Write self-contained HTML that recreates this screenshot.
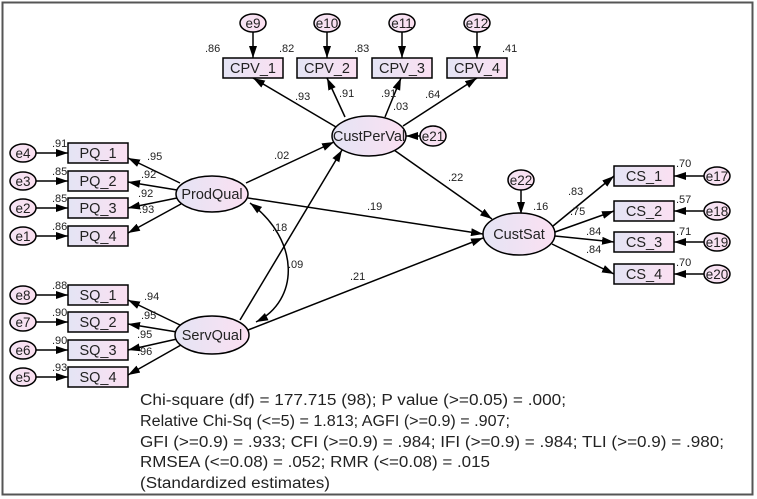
<!DOCTYPE html>
<html><head><meta charset="utf-8"><style>
html,body{margin:0;padding:0;background:#fff}
svg{display:block}
text{font-family:"Liberation Sans",Arial,sans-serif;fill:#222}
</style></head><body>
<svg width="757" height="499" viewBox="0 0 757 499" xmlns="http://www.w3.org/2000/svg">
<defs>
<linearGradient id="g" x1="0" y1="0" x2="1" y2="0"><stop offset="0" stop-color="#e4e4f4"/><stop offset="1" stop-color="#fbe0f2"/></linearGradient>
<linearGradient id="ge" x1="0" y1="0" x2="1" y2="0"><stop offset="0" stop-color="#f4e4f4"/><stop offset="1" stop-color="#fbdff0"/></linearGradient>
<marker id="a" viewBox="0 0 12 8" refX="12" refY="4" markerWidth="12" markerHeight="8" markerUnits="userSpaceOnUse" orient="auto"><path d="M0,0L12,4L0,8z" fill="#000"/></marker>
<marker id="s" viewBox="0 0 12 8" refX="0" refY="4" markerWidth="12" markerHeight="8" markerUnits="userSpaceOnUse" orient="auto"><path d="M12,0L0,4L12,8z" fill="#000"/></marker>
</defs>
<rect x="2.5" y="2.5" width="750" height="492" fill="#fff" stroke="#555" stroke-width="2"/>
<g stroke="#000" stroke-width="1.5" fill="none" marker-end="url(#a)">
<line x1="36" y1="153" x2="68" y2="153"/><line x1="36" y1="181" x2="68" y2="181"/><line x1="36" y1="208" x2="68" y2="208"/><line x1="36" y1="236" x2="68" y2="236"/>
<line x1="36" y1="295" x2="68" y2="295"/><line x1="36" y1="322" x2="68" y2="322"/><line x1="36" y1="350" x2="68" y2="350"/><line x1="36" y1="377" x2="68" y2="377"/>
<line x1="180" y1="183" x2="128" y2="158"/><line x1="177" y1="190" x2="128" y2="182"/><line x1="177" y1="198" x2="128" y2="208"/><line x1="181" y1="204" x2="128" y2="233"/>
<line x1="180" y1="325" x2="128" y2="300"/><line x1="177" y1="332" x2="128" y2="324"/><line x1="177" y1="339" x2="128" y2="350"/><line x1="181" y1="345" x2="128" y2="375"/>
<line x1="253" y1="32" x2="253" y2="58"/><line x1="327" y1="32" x2="327" y2="58"/><line x1="402" y1="32" x2="402" y2="58"/><line x1="477" y1="32" x2="477" y2="58"/>
<line x1="336" y1="127" x2="253" y2="78"/><line x1="345" y1="117" x2="327" y2="78"/><line x1="385" y1="117" x2="401" y2="78"/><line x1="403" y1="126" x2="477" y2="78"/>
<line x1="420" y1="136" x2="406" y2="136"/>
<line x1="246" y1="183" x2="334" y2="142"/>
<line x1="240" y1="320" x2="342" y2="150"/>
<line x1="248" y1="198" x2="483" y2="234"/>
<line x1="248" y1="330" x2="483" y2="238"/>
<line x1="394" y1="150" x2="492" y2="219"/>
<line x1="521" y1="190" x2="521" y2="214"/>
<line x1="553" y1="226" x2="614" y2="176"/><line x1="555" y1="232" x2="614" y2="211"/><line x1="555" y1="236" x2="614" y2="242"/><line x1="552" y1="244" x2="614" y2="274"/>
<line x1="704" y1="176" x2="674" y2="176"/><line x1="704" y1="211" x2="674" y2="211"/><line x1="704" y1="242" x2="674" y2="242"/><line x1="704" y1="274" x2="674" y2="274"/>
<path d="M250,203 C300,240 300,300 256,322" marker-start="url(#s)"/>
</g>
<g stroke="#000" stroke-width="1.5" fill="url(#g)">
<rect x="68" y="143" width="60" height="20"/><rect x="68" y="171" width="60" height="20"/><rect x="68" y="198" width="60" height="20"/><rect x="68" y="226" width="60" height="20"/>
<rect x="68" y="285" width="60" height="20"/><rect x="68" y="312" width="60" height="20"/><rect x="68" y="340" width="60" height="20"/><rect x="68" y="367" width="60" height="20"/>
<rect x="223" y="58" width="60" height="20"/><rect x="297" y="58" width="60" height="20"/><rect x="372" y="58" width="60" height="20"/><rect x="447" y="58" width="60" height="20"/>
<rect x="614" y="166" width="60" height="20"/><rect x="614" y="201" width="60" height="20"/><rect x="614" y="232" width="60" height="20"/><rect x="614" y="264" width="60" height="20"/>
<ellipse cx="212" cy="194" rx="36" ry="18"/><ellipse cx="212" cy="335" rx="37" ry="19"/>
<ellipse cx="369" cy="136" rx="37" ry="20"/><ellipse cx="519" cy="234" rx="36" ry="21"/>
</g>
<g stroke="#000" stroke-width="1.5" fill="url(#ge)">
<ellipse cx="23" cy="153" rx="13" ry="9"/><ellipse cx="23" cy="181" rx="13" ry="9"/><ellipse cx="23" cy="208" rx="13" ry="9"/><ellipse cx="23" cy="236" rx="13" ry="9"/>
<ellipse cx="23" cy="295" rx="13" ry="9"/><ellipse cx="23" cy="322" rx="13" ry="9"/><ellipse cx="23" cy="350" rx="13" ry="9"/><ellipse cx="23" cy="377" rx="13" ry="9"/>
<ellipse cx="253" cy="23" rx="13" ry="9"/><ellipse cx="327" cy="23" rx="13" ry="9"/><ellipse cx="402" cy="23" rx="13" ry="9"/><ellipse cx="477" cy="23" rx="13" ry="9"/>
<ellipse cx="433" cy="136" rx="13" ry="10"/><ellipse cx="521" cy="180" rx="13" ry="10"/>
<ellipse cx="717" cy="176" rx="13" ry="9"/><ellipse cx="717" cy="211" rx="13" ry="9"/><ellipse cx="717" cy="242" rx="13" ry="9"/><ellipse cx="717" cy="274" rx="13" ry="9"/>
</g>
<g font-size="13.5" text-anchor="middle">
<text x="23" y="158">e4</text><text x="23" y="186">e3</text><text x="23" y="213">e2</text><text x="23" y="241">e1</text>
<text x="23" y="300">e8</text><text x="23" y="327">e7</text><text x="23" y="355">e6</text><text x="23" y="382">e5</text>
<text x="253" y="28">e9</text><text x="327" y="28">e10</text><text x="402" y="28">e11</text><text x="477" y="28">e12</text>
<text x="433" y="141">e21</text><text x="521" y="185">e22</text>
<text x="717" y="181">e17</text><text x="717" y="216">e18</text><text x="717" y="247">e19</text><text x="717" y="279">e20</text>
</g>
<g font-size="14.5" text-anchor="middle">
<text x="98" y="158">PQ_1</text><text x="98" y="186">PQ_2</text><text x="98" y="213">PQ_3</text><text x="98" y="241">PQ_4</text>
<text x="98" y="300">SQ_1</text><text x="98" y="327">SQ_2</text><text x="98" y="355">SQ_3</text><text x="98" y="382">SQ_4</text>
<text x="253" y="73">CPV_1</text><text x="327" y="73">CPV_2</text><text x="402" y="73">CPV_3</text><text x="477" y="73">CPV_4</text>
<text x="644" y="181">CS_1</text><text x="644" y="216">CS_2</text><text x="644" y="247">CS_3</text><text x="644" y="279">CS_4</text>
<text x="212" y="199">ProdQual</text><text x="212" y="340">ServQual</text><text x="369" y="141">CustPerVal</text><text x="519" y="239">CustSat</text>
</g>
<g font-size="11">
<text x="52" y="147">.91</text><text x="52" y="175">.85</text><text x="52" y="202">.85</text><text x="52" y="230">.86</text>
<text x="52" y="289">.88</text><text x="52" y="316">.90</text><text x="52" y="344">.90</text><text x="52" y="371">.93</text>
<text x="147" y="160">.95</text><text x="141" y="178">.92</text><text x="138" y="197">.92</text><text x="139" y="213">.93</text>
<text x="144" y="300">.94</text><text x="141" y="319">.95</text><text x="137" y="338">.95</text><text x="137" y="355">.96</text>
<text x="205" y="52">.86</text><text x="279" y="52">.82</text><text x="354" y="52">.83</text><text x="502" y="52">.41</text>
<text x="295" y="100">.93</text><text x="339" y="97">.91</text><text x="381" y="97">.91</text><text x="393" y="110">.03</text><text x="425" y="98">.64</text>
<text x="274" y="159">.02</text><text x="367" y="210">.19</text><text x="350" y="280">.21</text><text x="272" y="231">.18</text><text x="288" y="268">.09</text>
<text x="448" y="181">.22</text><text x="533" y="210">.16</text>
<text x="568" y="195">.83</text><text x="570" y="215">.75</text><text x="586" y="235">.84</text><text x="586" y="253">.84</text>
<text x="676" y="167">.70</text><text x="676" y="203">.57</text><text x="676" y="235">.71</text><text x="676" y="266">.70</text>
</g>
<g font-size="15.5">
<text x="140" y="405" textLength="426" lengthAdjust="spacingAndGlyphs">Chi-square (df) = 177.715 (98);  P value (&gt;=0.05) = .000;</text>
<text x="140" y="426" textLength="370" lengthAdjust="spacingAndGlyphs">Relative Chi-Sq (&lt;=5) = 1.813; AGFI (&gt;=0.9) = .907;</text>
<text x="140" y="447" textLength="584" lengthAdjust="spacingAndGlyphs">GFI (&gt;=0.9) = .933; CFI (&gt;=0.9) = .984; IFI (&gt;=0.9) = .984; TLI (&gt;=0.9) = .980;</text>
<text x="140" y="467" textLength="350" lengthAdjust="spacingAndGlyphs">RMSEA (&lt;=0.08) = .052; RMR (&lt;=0.08) = .015</text>
<text x="140" y="488" textLength="190" lengthAdjust="spacingAndGlyphs">(Standardized estimates)</text>
</g>
</svg>
</body></html>
